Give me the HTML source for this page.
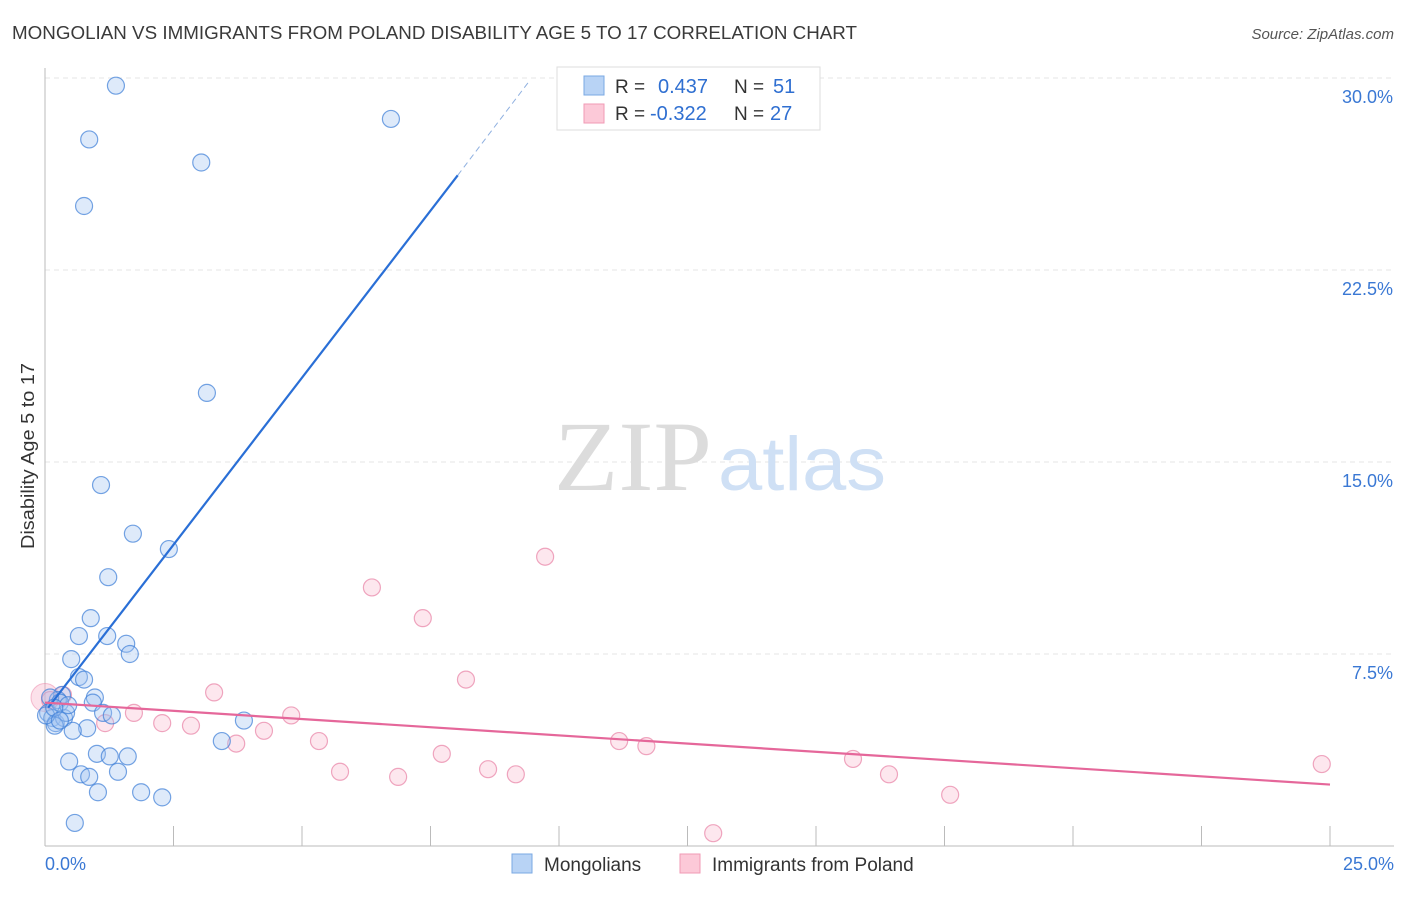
<!DOCTYPE html>
<html><head><meta charset="utf-8"><style>
body{margin:0;background:#fff;font-family:"Liberation Sans",sans-serif}
svg text{font-family:"Liberation Sans",sans-serif}
</style></head><body>
<svg width="1406" height="892" id="chart">
<text x="12" y="39" font-size="18" fill="#3a3a3a" textLength="845" lengthAdjust="spacingAndGlyphs">MONGOLIAN VS IMMIGRANTS FROM POLAND DISABILITY AGE 5 TO 17 CORRELATION CHART</text>
<text x="1394" y="39" font-size="15" fill="#555" font-style="italic" text-anchor="end">Source: ZipAtlas.com</text>
<text x="34" y="549" font-size="18" fill="#333" textLength="186" lengthAdjust="spacingAndGlyphs" transform="rotate(-90 34 549)">Disability Age 5 to 17</text>
<g id="grid"></g>
<text x="554" y="490" font-size="100" fill="#dcdcdc" textLength="158" lengthAdjust="spacingAndGlyphs" style="font-family:'Liberation Serif',serif">ZIP</text>
<text x="718" y="490" font-size="76" fill="#cfe0f5" textLength="168" lengthAdjust="spacingAndGlyphs">atlas</text>
<g id="marks"></g>
<g>
<rect x="557" y="67" width="263" height="63" fill="#fff" stroke="#ddd"/>
<rect x="584" y="76" width="20" height="19" fill="#b8d3f5" stroke="#7aa8e3"/>
<rect x="584" y="104" width="20" height="19" fill="#fcc9d8" stroke="#f09ab5"/>
<text x="615" y="93" font-size="19" fill="#333">R = </text><text x="658" y="93" font-size="20" fill="#2f6fd1">0.437</text>
<text x="734" y="93" font-size="19" fill="#333">N = </text><text x="773" y="93" font-size="20" fill="#2f6fd1">51</text>
<text x="615" y="120" font-size="19" fill="#333">R = </text><text x="650" y="120" font-size="20" fill="#2f6fd1">-0.322</text>
<text x="734" y="120" font-size="19" fill="#333">N = </text><text x="770" y="120" font-size="20" fill="#2f6fd1">27</text>
</g>
<g>
<rect x="512" y="854" width="20" height="19" fill="#b8d3f5" stroke="#7aa8e3"/>
<text x="544" y="871" font-size="19" fill="#333">Mongolians</text>
<rect x="680" y="854" width="20" height="19" fill="#fcc9d8" stroke="#f09ab5"/>
<text x="712" y="871" font-size="19" fill="#333">Immigrants from Poland</text>
</g>
</svg>
<script>
const yTicks=[7.5,15,22.5,30];
const yTickLabels=["7.5%","15.0%","22.5%","30.0%"];
const xTickLabels=["0.0%","25.0%"];
const blueX=[1.38,6.73,0.86,3.04,0.76,3.15,1.09,1.71,2.41,1.23,0.89,0.66,1.21,1.58,1.65,0.51,0.66,0.76,0.97,0.93,0.33,0.25,0.10,0.06,0.14,0.21,0.37,1.13,1.30,0.82,0.54,0.19,3.87,1.01,1.26,1.61,3.44,0.47,0.70,0.86,1.42,1.03,1.87,2.28,0.58,0.29,0.41,0.02,0.45,0.18,0.29];
const blueY=[29.7,28.4,27.6,26.7,25.0,17.7,14.1,12.2,11.6,10.5,8.9,8.2,8.2,7.9,7.5,7.3,6.6,6.5,5.8,5.6,5.9,5.7,5.8,5.2,5.0,4.8,5.0,5.2,5.1,4.6,4.5,4.7,4.9,3.6,3.5,3.5,4.1,3.3,2.8,2.7,2.9,2.1,2.1,1.9,0.9,5.6,5.2,5.1,5.5,5.4,4.9];
const pinkX=[0.10,0.35,1.17,1.73,2.28,2.84,3.29,3.72,4.26,4.79,5.33,5.74,6.36,6.87,7.35,7.72,8.19,8.62,9.16,9.73,11.17,11.70,13.00,15.72,16.42,17.61,24.84];
const pinkY=[5.7,5.9,4.8,5.2,4.8,4.7,6.0,4.0,4.5,5.1,4.1,2.9,10.1,2.7,8.9,3.6,6.5,3.0,2.8,11.3,4.1,3.9,0.5,3.4,2.8,2.0,3.2];
const blueLine=[[0.06,5.4],[8.03,26.2]], blueDash=[[8.03,26.2],[9.43,29.9]];
const pinkLine=[[0,5.6],[25,2.4]];
const X=v=>45+v*51.4, Y=v=>846-v*25.6;
const NS="http://www.w3.org/2000/svg";
const grid=document.getElementById('grid'), marks=document.getElementById('marks');
function mk(tag,attrs,parent){const e=document.createElementNS(NS,tag);for(const k in attrs)e.setAttribute(k,attrs[k]);parent.appendChild(e);return e;}
yTicks.forEach((t,i)=>{
 const l=mk('line',{x1:45,x2:1394,y1:Y(t),y2:Y(t),stroke:'#e6e6e6','stroke-dasharray':'5,4'},grid);
 
 
 const tx=mk('text',{x:1393,y:Y(t)+25,'font-size':18,fill:'#3a78d4','text-anchor':'end'},grid);
 tx.textContent=yTickLabels[i];
 
 
});
const ax=mk('line',{x1:45,x2:45,y1:68,y2:846,stroke:'#bbb'},grid);


const bx=mk('line',{x1:45,x2:1394,y1:846,y2:846,stroke:'#bbb'},grid);


for(let i=1;i<=10;i++){const t=mk('line',{x1:X(i*2.5),x2:X(i*2.5),y1:826,y2:846,stroke:'#bbb'},grid);
 
 }
[[0,'start',45],[25,'end',1394]].forEach((d,i)=>{const t=mk('text',{x:d[2],y:870,'font-size':18,fill:'#3a78d4','text-anchor':d[1]},grid);t.textContent=xTickLabels[i];
 
 });
const big=mk('circle',{cx:X(0),cy:Y(5.8),r:14,fill:'rgba(247,170,195,0.35)',stroke:'rgba(235,130,165,0.5)'},marks);


pinkX.forEach((v,i)=>{const c=mk('circle',{cx:X(v),cy:Y(pinkY[i]),r:8.5,fill:'rgba(247,175,200,0.3)',stroke:'rgba(232,130,165,0.7)','stroke-width':1.2},marks);
 
 });
blueX.forEach((v,i)=>{const c=mk('circle',{cx:X(v),cy:Y(blueY[i]),r:8.5,fill:'rgba(160,195,240,0.35)',stroke:'rgba(60,125,215,0.7)','stroke-width':1.2},marks);
 
 });
const bl=mk('line',{x1:X(blueLine[0][0]),y1:Y(blueLine[0][1]),x2:X(blueLine[1][0]),y2:Y(blueLine[1][1]),stroke:'#2a6fd6','stroke-width':2.2},marks);


const bd=mk('line',{x1:X(blueDash[0][0]),y1:Y(blueDash[0][1]),x2:X(blueDash[1][0]),y2:Y(blueDash[1][1]),stroke:'#8fb0e0','stroke-width':1,'stroke-dasharray':'6,4'},marks);


const pl=mk('line',{x1:X(pinkLine[0][0]),y1:Y(pinkLine[0][1]),x2:X(pinkLine[1][0]),y2:Y(pinkLine[1][1]),stroke:'#e5679a','stroke-width':2.2},marks);


</script>
</body></html>
